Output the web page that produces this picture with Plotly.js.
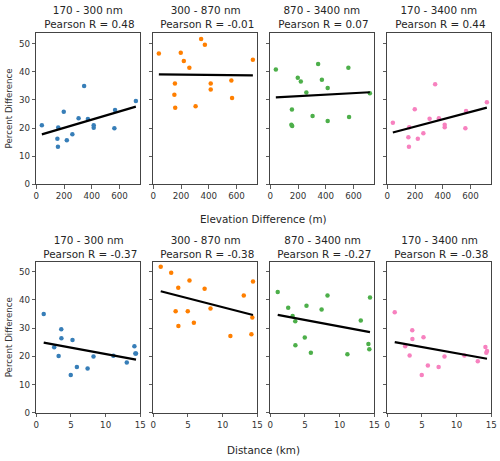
<!DOCTYPE html>
<html>
<head>
<meta charset="utf-8">
<script src="https://cdn.plot.ly/plotly-3.0.1.min.js"></script>
<style>html,body{margin:0;padding:0;background:#fff;}#chart{width:500px;height:461px;}</style>
</head>
<body>
<div id="chart"></div>
<script>
// Site data (15 sites)
const elevation = [40, 152, 156, 158, 198, 220, 260, 305, 345, 372, 414, 414, 563, 568, 718];
const distance  = [14.38, 5.85, 4.97, 11.12, 5.22, 7.40, 13.05, 14.15, 1.07, 2.58, 3.22, 14.28, 8.25, 3.62, 3.60];
const band170_300  = [21.0, 16.2, 13.4, 20.2, 25.8, 15.7, 17.8, 23.5, 35.0, 23.2, 20.1, 21.0, 19.9, 26.4, 29.6];
const band300_870  = [46.5, 31.9, 35.9, 27.2, 46.8, 43.9, 41.5, 27.8, 51.7, 49.6, 35.9, 33.7, 36.9, 30.7, 44.3];
const band870_3400 = [40.8, 21.2, 26.6, 20.7, 37.9, 36.6, 32.7, 24.3, 42.8, 37.2, 34.3, 22.5, 41.5, 23.9, 32.4];
const band170_3400 = [21.9, 16.7, 13.4, 20.3, 26.7, 16.2, 18.2, 23.3, 35.6, 23.5, 20.3, 21.2, 19.9, 26.1, 29.2];

const bandNames = ['170 - 300 nm', '300 - 870 nm', '870 - 3400 nm', '170 - 3400 nm'];
const bandValues = [band170_300, band300_870, band870_3400, band170_3400];
const colors = ['#377eb8', '#ff7f00', '#4daf4a', '#f781bf'];
const rElevation = ['0.48', '-0.01', '0.07', '0.44'];
const rDistance = ['-0.37', '-0.38', '-0.27', '-0.38'];

function fit(x, y) {
  const n = x.length;
  const mx = x.reduce((a, b) => a + b, 0) / n;
  const my = y.reduce((a, b) => a + b, 0) / n;
  let sxy = 0, sxx = 0;
  for (let i = 0; i < n; i++) { sxy += (x[i] - mx) * (y[i] - my); sxx += (x[i] - mx) ** 2; }
  const b = sxy / sxx;
  return { a: my - b * mx, b: b };
}

const W = 500, H = 461;
const traces = [];
const layout = {
  width: W, height: H,
  margin: { l: 0, r: 0, t: 0, b: 0 },
  paper_bgcolor: '#fff', plot_bgcolor: '#fff',
  showlegend: false,
  font: { family: 'DejaVu Sans', size: 9, color: '#262626' },
  annotations: []
};

const rows = [
  { x: elevation, range: [0, 750], dtick: 200, top: 32.5, bottom: 184.3, r: rElevation, yTop: 54.0 },
  { x: distance, range: [0, 15], dtick: 5, top: 261.7, bottom: 412.7, r: rDistance, yTop: 53.5 }
];

let k = 0;
rows.forEach((row, ri) => {
  for (let c = 0; c < 4; c++) {
    k++;
    const xa = 'xaxis' + (k === 1 ? '' : k);
    const ya = 'yaxis' + (k === 1 ? '' : k);
    const xr = 'x' + (k === 1 ? '' : k);
    const yr = 'y' + (k === 1 ? '' : k);
    const left = 36.3 + 117 * c, right = left + 104;
    layout[xa] = {
      domain: [left / W, right / W], anchor: yr, range: row.range,
      tickmode: 'linear', tick0: 0, dtick: row.dtick,
      ticks: 'outside', ticklen: 3.5, tickwidth: 0.8, tickcolor: '#333',
      showline: true, linecolor: '#444', linewidth: 1, mirror: true,
      showgrid: false, zeroline: false,
      tickfont: { size: 8.7, color: '#333' }
    };
    layout[ya] = {
      domain: [(H - row.bottom) / H, (H - row.top) / H], anchor: xr, range: [0, row.yTop],
      tickmode: 'linear', tick0: 0, dtick: 10,
      ticks: 'outside', ticklen: 3.5, tickwidth: 0.8, tickcolor: '#333',
      showline: true, linecolor: '#444', linewidth: 1, mirror: true,
      showgrid: false, zeroline: false,
      showticklabels: c === 0,
      tickfont: { size: 8.7, color: '#333' }
    };
    if (c === 0) {
      layout[ya].title = { text: 'Percent Difference', font: { size: 8.7, color: '#333' }, standoff: 4 };
    }
    const y = bandValues[c];
    const f = fit(row.x, y);
    const xmin = Math.min(...row.x), xmax = Math.max(...row.x);
    traces.push({
      type: 'scatter', mode: 'markers', x: row.x, y: y, xaxis: xr, yaxis: yr,
      marker: { color: colors[c], size: 4.5 }, hoverinfo: 'skip'
    });
    traces.push({
      type: 'scatter', mode: 'lines', x: [xmin, xmax], y: [f.a + f.b * xmin, f.a + f.b * xmax],
      xaxis: xr, yaxis: yr, line: { color: '#000', width: 2.2 }, hoverinfo: 'skip'
    });
    layout.annotations.push({
      xref: 'paper', yref: 'paper', x: (left + right) / 2 / W, y: (H - row.top) / H,
      yshift: 0,
      xanchor: 'center', yanchor: 'bottom', showarrow: false, align: 'center',
      text: bandNames[c] + '<br> Pearson R = ' + row.r[c],
      font: { size: 10.4, color: '#262626' }
    });
  }
});

layout.annotations.push({
  xref: 'paper', yref: 'paper', x: 263.5 / W, y: (H - 219) / H, xanchor: 'center', yanchor: 'middle',
  showarrow: false, text: 'Elevation Difference (m)', font: { size: 10.4, color: '#262626' }
});
layout.annotations.push({
  xref: 'paper', yref: 'paper', x: 263.5 / W, y: (H - 450) / H, xanchor: 'center', yanchor: 'middle',
  showarrow: false, text: 'Distance (km)', font: { size: 10.4, color: '#262626' }
});

Plotly.newPlot('chart', traces, layout, { staticPlot: true, displayModeBar: false });
</script>
</body>
</html>
